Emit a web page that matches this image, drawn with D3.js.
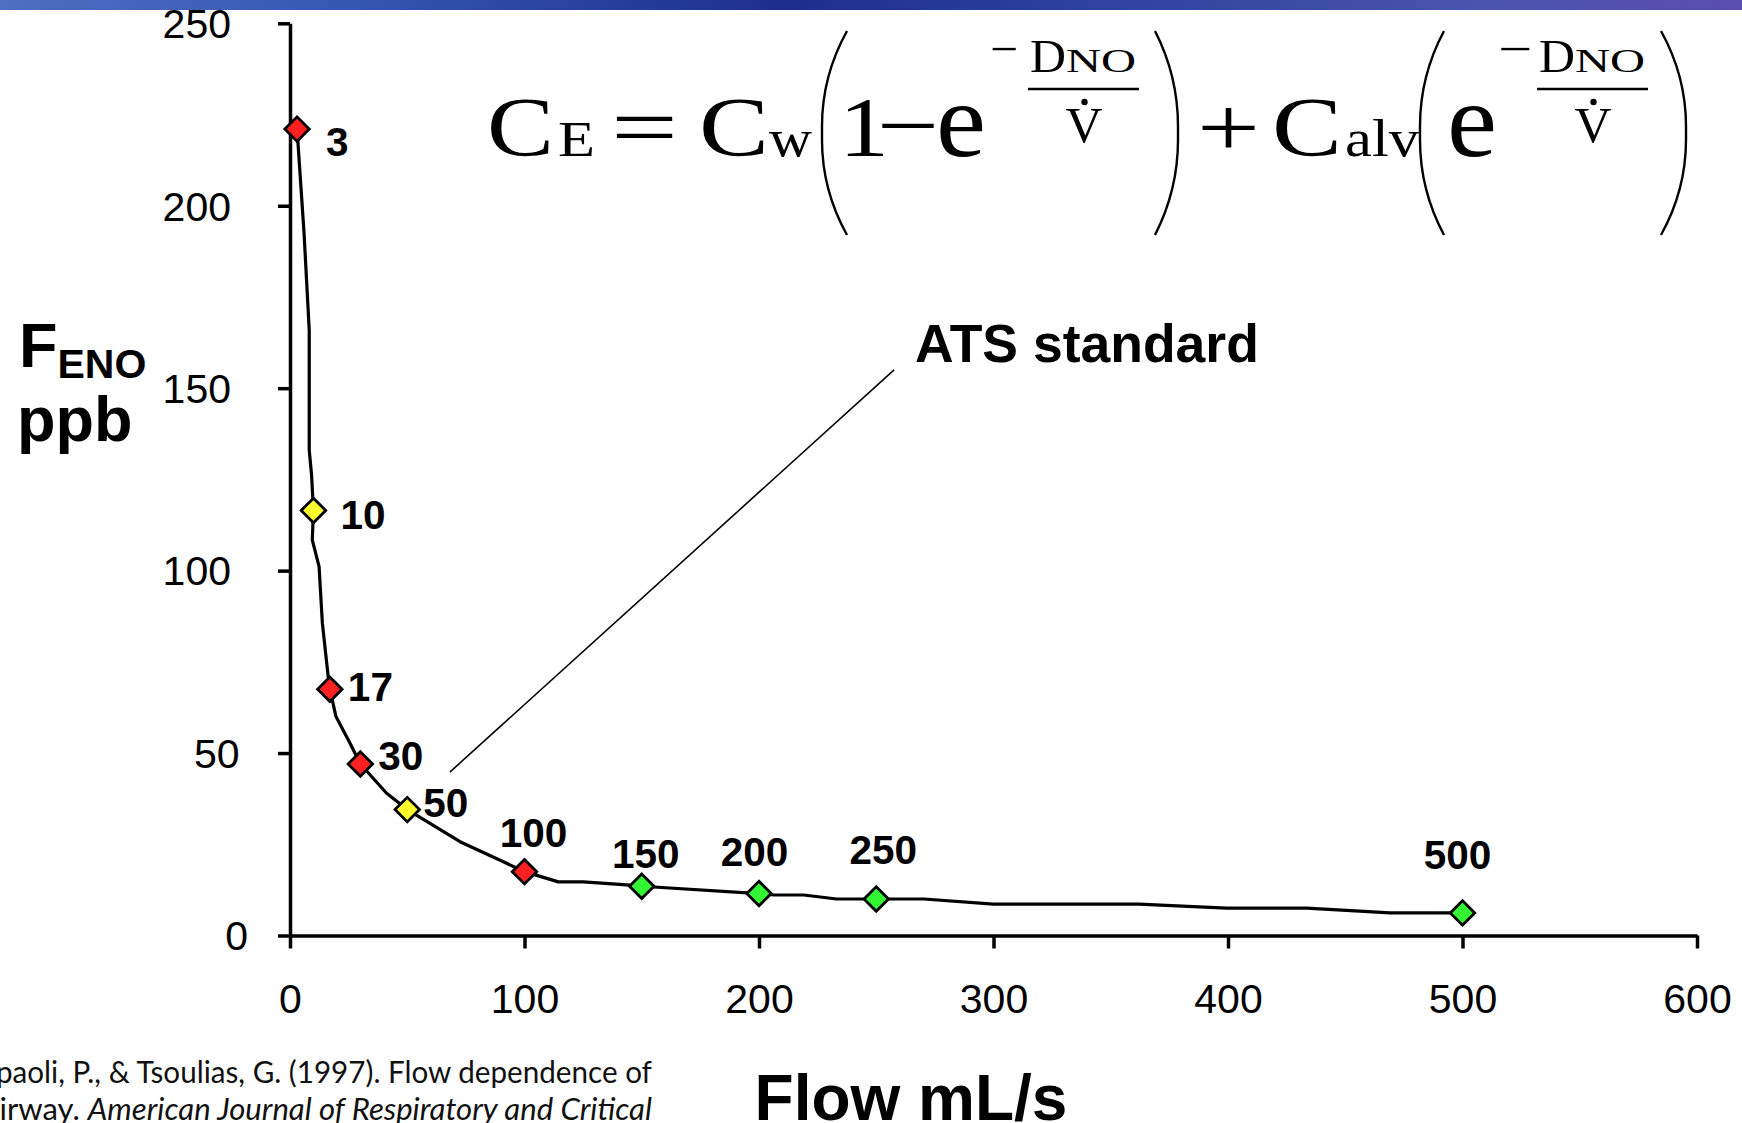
<!DOCTYPE html>
<html><head><meta charset="utf-8">
<script src="https://cdn.jsdelivr.net/npm/d3@7"></script>
<style>body{margin:0;background:#fff;overflow:hidden} svg{display:block}</style>
</head><body>
<svg id="chart" width="1742" height="1123"></svg>
<script>
// Exhaled NO measured at each expiratory flow rate
const flowRates = [3, 10, 17, 30, 50, 100, 150, 200, 250, 500];
const fenoValues = [221, 116.5, 67.5, 47, 34.5, 17.5, 13.5, 11.5, 10, 6.2];
const flowGrade = ["red", "yellow", "red", "red", "yellow", "red", "green", "green", "green", "green"];

// Fitted two-compartment model curve
const curveFlow = [3, 6.0, 8.2, 8.2, 9.2, 10, 9.5, 12.4, 13.8, 16.3, 17, 19.6, 25.6, 30, 41.2, 50, 59.7, 72.5, 91.0, 100,
  114.4, 125.1, 145.0, 150, 200, 206.7, 219.1, 233.1, 250, 270.4, 299.9, 362.0, 399.3, 433.5, 469.2, 500];
const curveFeno = [221, 192.4, 165.9, 133, 126.2, 116.5, 108.4, 101.1, 85.6, 70.9, 67.5, 60.0, 52.7, 47, 39.0, 34.5, 30.7, 25.7, 20.2, 17.5,
  14.7, 14.7, 13.8, 13.5, 11.5, 11.1, 11.1, 10.0, 10, 10.0, 8.6, 8.6, 7.5, 7.5, 6.2, 6.2];

const xTicks = [0, 100, 200, 300, 400, 500, 600];
const yTicks = [0, 50, 100, 150, 200, 250];

const svg = d3.select("#chart");
const sans = "'Liberation Sans', Arial, Helvetica, sans-serif";
const serif = "'Liberation Serif', 'Times New Roman', serif";

// banner strip along the top edge
const defs = svg.append("defs");
const grad = defs.append("linearGradient").attr("id", "banner").attr("x1", 0).attr("x2", 1);
[[0, "#4f6fc4"], [0.2, "#3657b0"], [0.45, "#1d2f8e"], [0.6, "#2a3f9c"], [0.85, "#4a55ad"], [1, "#5b4eae"]]
  .forEach(([o, c]) => grad.append("stop").attr("offset", o).attr("stop-color", c));
svg.append("rect").attr("x", 0).attr("y", 0).attr("width", 1742).attr("height", 10).attr("fill", "url(#banner)");

const x = d3.scaleLinear().domain([0, 600]).range([290, 1697]);
const y = d3.scaleLinear().domain([0, 250]).range([935.5, 23.3]);
const gradeColor = d3.scaleOrdinal().domain(["red", "yellow", "green"]).range(["#ff2020", "#ffff2e", "#34f534"]);

// axes
const yAxis = svg.append("g").attr("transform", `translate(${x(0)},0)`)
  .call(d3.axisLeft(y).tickValues(yTicks).tickSize(12).tickSizeOuter(0));
yAxis.selectAll("text")
  .attr("x", d => { const n = String(d).length; return 231 + (3 - n) * 8.5 - x(0); })
  .attr("dy", "0.35em")
  .style("font-family", sans).style("font-size", "41px").attr("fill", "#000");

const xAxis = svg.append("g").attr("transform", `translate(0,${y(0)})`)
  .call(d3.axisBottom(x).tickValues(xTicks).tickSize(13).tickSizeOuter(0));
xAxis.selectAll("text").attr("y", 77.5).attr("dy", 0)
  .style("font-family", sans).style("font-size", "41px").attr("fill", "#000");

svg.selectAll(".domain, .tick line").attr("stroke", "#000").attr("stroke-width", 3.5);

// model curve
const line = d3.line().x((d, i) => x(curveFlow[i])).y((d, i) => y(curveFeno[i]));
svg.append("path").datum(curveFlow).attr("d", line)
  .attr("fill", "none").attr("stroke", "#000").attr("stroke-width", 3.2)
  .attr("stroke-linejoin", "round");

// ATS standard annotation leader
svg.append("line")
  .attr("x1", x(257.6)).attr("y1", y(155))
  .attr("x2", x(68.2)).attr("y2", y(44.8))
  .attr("stroke", "#000").attr("stroke-width", 1.6);
svg.append("text").attr("x", 915).attr("y", 362).text("ATS standard")
  .style("font-family", sans).style("font-weight", "bold").style("font-size", "53.5px");

// markers
const diamond = d3.symbol().type(d3.symbolSquare).size(300);
svg.selectAll("path.pt").data(flowRates).join("path").attr("class", "pt")
  .attr("d", diamond)
  .attr("transform", (d, i) => `translate(${x(d)},${y(fenoValues[i])}) rotate(45)`)
  .attr("fill", (d, i) => gradeColor(flowGrade[i]))
  .attr("stroke", "#000").attr("stroke-width", 2.8);

// flow labels next to each marker
const labelOffset = [[29, 27, "start"], [27, 19, "start"], [18, 12, "start"], [18, 6.4, "start"], [16, 7, "start"],
  [9, -25, "middle"], [4, -18.5, "middle"], [-4.5, -28, "middle"], [7, -35, "middle"], [-5, -44, "middle"]];
svg.selectAll("text.lbl").data(flowRates).join("text").attr("class", "lbl")
  .attr("x", (d, i) => x(d) + labelOffset[i][0])
  .attr("y", (d, i) => y(fenoValues[i]) + labelOffset[i][1])
  .attr("text-anchor", (d, i) => labelOffset[i][2])
  .text(d => d)
  .style("font-family", sans).style("font-weight", "bold").style("font-size", "40.5px");

// axis titles
const yt = svg.append("text").attr("x", 19).attr("y", 366.7)
  .style("font-family", sans).style("font-weight", "bold").style("font-size", "63px");
yt.append("tspan").text("F");
yt.append("tspan").attr("dy", 11).style("font-size", "41px").text("ENO");
svg.append("text").attr("x", 17).attr("y", 441).text("ppb")
  .style("font-family", sans).style("font-weight", "bold").style("font-size", "63px");

svg.append("text").attr("x", 911).attr("y", 1120).attr("text-anchor", "middle").text("Flow mL/s")
  .style("font-family", sans).style("font-weight", "bold").style("font-size", "64px");

// citation (runs off the left edge)
const cite = "Lato, 'Open Sans', sans-serif";
svg.append("text").attr("x", -4).attr("y", 1083)
  .attr("textLength", 656).attr("lengthAdjust", "spacingAndGlyphs")
  .style("font-family", cite).style("font-size", "30px").attr("fill", "#111")
  .text("paoli, P., & Tsoulias, G. (1997). Flow dependence of");
const c2 = svg.append("text").attr("x", -16).attr("y", 1120)
  .attr("textLength", 668).attr("lengthAdjust", "spacingAndGlyphs")
  .style("font-family", cite).style("font-size", "30px").attr("fill", "#111");
c2.append("tspan").text("airway. ");
c2.append("tspan").style("font-style", "italic").text("American Journal of Respiratory and Critical");

// model equation
const eq = svg.append("g").attr("class", "equation");
function put(str, px, len, py, size) {
  return eq.append("text").attr("x", px).attr("y", py).text(str)
    .attr("textLength", len).attr("lengthAdjust", "spacingAndGlyphs")
    .style("font-family", serif).style("font-size", size + "px");
}
function paren(x0, x1, top, bot, open) {
  const xo = open ? x1 : x0, xi = open ? x0 : x1;
  eq.append("path")
    .attr("d", `M${xo},${top} Q${xi},${top + 45} ${xi},${top + 95} L${xi},${bot - 95} Q${xi},${bot - 45} ${xo},${bot}`)
    .attr("fill", "none").attr("stroke", "#000").attr("stroke-width", 2.4);
}
function fraction(x0, x1) {
  put("D", x0 + 2, 36, 72, 47);
  put("NO", x0 + 38, 70, 72, 34);
  eq.append("line").attr("x1", x0).attr("x2", x1).attr("y1", 89).attr("y2", 89)
    .attr("stroke", "#000").attr("stroke-width", 2.4);
  const vx = (x0 + x1) / 2;
  put("V", vx - 18, 37, 142, 50);
  eq.append("circle").attr("cx", vx + 1).attr("cy", 102).attr("r", 3.2).attr("fill", "#000");
}
const M = 84;
put("C", 487, 67, 155.5, M);
put("E", 558, 37, 155.5, 50);
put("=", 611, 67, 155.5, M);
put("C", 699, 70, 155.5, M);
put("w", 769, 43, 155.5, 52);
paren(822, 847, 31, 235, true);
put("1", 839, 50, 155.5, M);
put("\u2013", 883, 50, 146, M);
put("e", 936, 50, 155.5, 105);
put("\u2212", 990, 28, 65, 48);
fraction(1028, 1139);
paren(1155, 1178, 31, 235, false);
put("+", 1197, 63, 155.5, M);
put("C", 1272, 70, 155.5, M);
put("alv", 1345, 74, 155.5, 52);
paren(1420, 1444, 31, 235, true);
put("e", 1447, 50, 155.5, 105);
put("\u2212", 1498, 34, 65, 48);
fraction(1537, 1648);
paren(1661, 1686, 31, 235, false);
</script>
</body></html>
